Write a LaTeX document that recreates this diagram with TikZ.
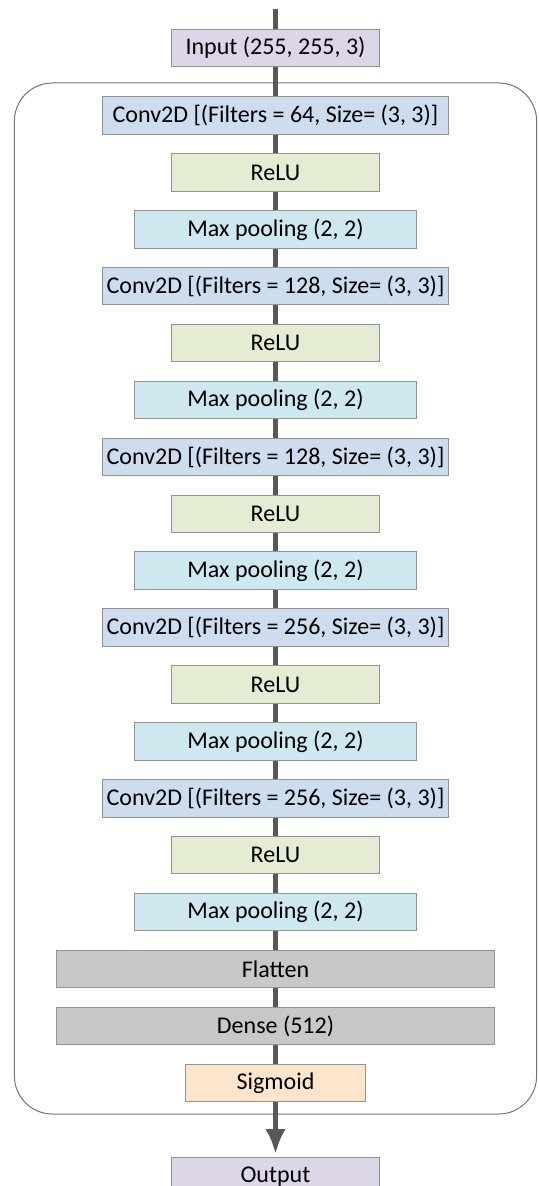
\documentclass[tikz,border=0pt]{standalone}
\usepackage{fontspec}
\setmainfont{Carlito}
\usepackage{tikz}
\usetikzlibrary{arrows.meta,positioning}
\usepackage{xcolor}
\definecolor{iopurple}{RGB}{221,214,233}
\definecolor{convblue}{RGB}{205,221,238}
\definecolor{relugreen}{RGB}{228,237,211}
\definecolor{poolcyan}{RGB}{205,232,239}
\definecolor{densegray}{RGB}{200,200,200}
\definecolor{sigpeach}{RGB}{252,228,205}
\definecolor{flowgray}{RGB}{88,88,88}
\tikzstyle{layer} = [rectangle, minimum height=18.75pt, inner sep=1pt, text centered, draw=gray!85, line width=0.5pt, font=\fontsize{12}{14}\selectfont]
\tikzstyle{iobox} = [layer, minimum width=104pt, fill=iopurple]
\tikzstyle{conv} = [layer, minimum width=173pt, fill=convblue]
\tikzstyle{relu} = [layer, minimum width=104pt, fill=relugreen]
\tikzstyle{pool} = [layer, minimum width=141pt, fill=poolcyan]
\tikzstyle{fc} = [layer, minimum width=218.75pt, fill=densegray]
\tikzstyle{flow} = [line width=2.5pt, color=flowgray]

\begin{document}
\begin{tikzpicture}[node distance=9.2pt]
\useasboundingbox (0,0) rectangle (269.5pt,-593pt);
% model frame
\draw[gray!90!black, line width=0.5pt, rounded corners=19pt] (7.2pt,-41.5pt) rectangle (268.3pt,-557pt);

\coordinate (start) at (137.75pt,-4.3pt);
\node[iobox] (input) at (137.75pt,-24pt) {Input (255, 255, 3)};

% conv blocks
\node[conv, below=14.5pt of input] (conva) {Conv2D [(Filters = 64, Size= (3, 3)]};
\node[relu, below=of conva] (relua) {ReLU};
\node[pool, below=of relua] (poola) {Max pooling (2, 2)};

\node[conv, below=of poola] (convb) {Conv2D [(Filters = 128, Size= (3, 3)]};
\node[relu, below=of convb] (relub) {ReLU};
\node[pool, below=of relub] (poolb) {Max pooling (2, 2)};

\node[conv, below=of poolb] (convc) {Conv2D [(Filters = 128, Size= (3, 3)]};
\node[relu, below=of convc] (reluc) {ReLU};
\node[pool, below=of reluc] (poolc) {Max pooling (2, 2)};

\node[conv, below=of poolc] (convd) {Conv2D [(Filters = 256, Size= (3, 3)]};
\node[relu, below=of convd] (relud) {ReLU};
\node[pool, below=of relud] (poold) {Max pooling (2, 2)};

\node[conv, below=of poold] (conve) {Conv2D [(Filters = 256, Size= (3, 3)]};
\node[relu, below=of conve] (relue) {ReLU};
\node[pool, below=of relue] (poole) {Max pooling (2, 2)};

% classifier head
\node[fc, below=of poole] (flatten) {Flatten};
\node[fc, below=of flatten] (dense) {Dense (512)};
\node[layer, minimum width=90pt, fill=sigpeach, below=of dense] (sigmoid) {Sigmoid};
\node[iobox, below=27.5pt of sigmoid] (output) {Output};

% data flow
\draw[flow] (start) -- (input);
\draw[flow] (input) -- (conva);
\draw[flow] (conva) -- (relua);
\draw[flow] (relua) -- (poola);
\draw[flow] (poola) -- (convb);
\draw[flow] (convb) -- (relub);
\draw[flow] (relub) -- (poolb);
\draw[flow] (poolb) -- (convc);
\draw[flow] (convc) -- (reluc);
\draw[flow] (reluc) -- (poolc);
\draw[flow] (poolc) -- (convd);
\draw[flow] (convd) -- (relud);
\draw[flow] (relud) -- (poold);
\draw[flow] (poold) -- (conve);
\draw[flow] (conve) -- (relue);
\draw[flow] (relue) -- (poole);
\draw[flow] (poole) -- (flatten);
\draw[flow] (flatten) -- (dense);
\draw[flow] (dense) -- (sigmoid);
\draw[flow, -{Latex[length=12.5pt,width=10.3pt]}, shorten >=1.5pt] (sigmoid) -- (output);
\end{tikzpicture}
\end{document}
